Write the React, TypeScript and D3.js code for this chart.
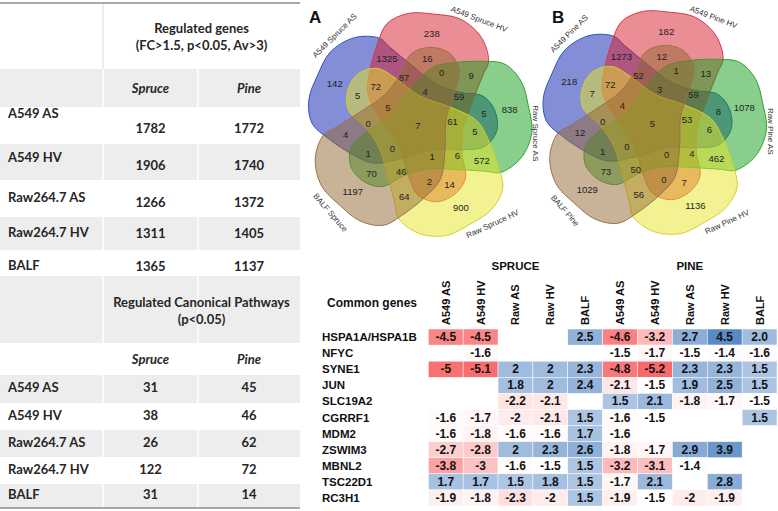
import React from "react";
import * as d3 from "d3";

// ---------- Left table data ----------
const tableRowNames = ["A549 AS", "A549 HV", "Raw264.7 AS", "Raw264.7 HV", "BALF"];
const genesSpruce = [1782, 1906, 1266, 1311, 1365];
const genesPine = [1772, 1740, 1372, 1405, 1137];
const pathwaysSpruce = [31, 38, 26, 122, 31];
const pathwaysPine = [45, 46, 62, 72, 14];
const columnNames = ["Spruce", "Pine"];

// ---------- Venn data (sets ordered clockwise from the top shape) ----------
const vennSetsA = ["A549 Spruce HV", "Raw Spruce AS", "Raw Spruce HV", "BALF Spruce", "A549 Spruce AS"];
const vennSetsB = ["A549 Pine HV", "Raw Pine AS", "Raw Pine HV", "BALF Pine", "A549 Pine AS"];
// counts per region orbit, one value per set index
const vennA_only = [238, 838, 900, 1197, 142];
const vennA_pairNext = [1325, 9, 572, 64, 4];
const vennA_pairTip = [16, 5, 14, 70, 5];
const vennA_quad = [4, 61, 1, 0, 5];
const vennA_tripleA = [0, 5, 2, 1, 72];
const vennA_tripleB = [87, 59, 6, 46, 0];
const vennA_all = 7;

const vennB_only = [182, 1078, 1136, 1029, 218];
const vennB_pairNext = [1273, 13, 462, 56, 12];
const vennB_pairTip = [12, 8, 7, 73, 7];
const vennB_quad = [3, 53, 0, 0, 4];
const vennB_tripleA = [1, 6, 0, 1, 72];
const vennB_tripleB = [52, 59, 4, 50, 0];
const vennB_all = 5;

// ---------- Heatmap data ----------
const heatGroups = ["SPRUCE", "PINE"];
const heatCols = ["A549 AS", "A549 HV", "Raw AS", "Raw HV", "BALF", "A549 AS", "A549 HV", "Raw AS", "Raw HV", "BALF"];
const genes = ["HSPA1A/HSPA1B", "NFYC", "SYNE1", "JUN", "SLC19A2", "CGRRF1", "MDM2", "ZSWIM3", "MBNL2", "TSC22D1", "RC3H1"];
const foldChanges = [
  ["-4.5", "-4.5", "", "", "2.5", "-4.6", "-3.2", "2.7", "4.5", "2.0"],
  ["", "-1.6", "", "", "", "-1.5", "-1.7", "-1.5", "-1.4", "-1.6"],
  ["-5", "-5.1", "2", "2", "2.3", "-4.8", "-5.2", "2.3", "2.3", "1.5"],
  ["", "", "1.8", "2", "2.4", "-2.1", "-1.5", "1.9", "2.5", "1.5"],
  ["", "", "-2.2", "-2.1", "", "1.5", "2.1", "-1.8", "-1.7", "-1.5"],
  ["-1.6", "-1.7", "-2", "-2.1", "1.5", "-1.6", "-1.5", "", "", "1.5"],
  ["-1.6", "-1.8", "-1.6", "-1.6", "1.7", "-1.6", "", "", "", ""],
  ["-2.7", "-2.8", "2", "2.3", "2.6", "-1.8", "-1.7", "2.9", "3.9", ""],
  ["-3.8", "-3", "-1.6", "-1.5", "1.5", "-3.2", "-3.1", "-1.4", "", ""],
  ["1.7", "1.7", "1.5", "1.8", "1.5", "-1.7", "2.1", "", "2.8", ""],
  ["-1.9", "-1.8", "-2.3", "-2", "1.5", "-1.9", "-1.5", "-2", "-1.9", ""],
];

// ---------- Styling / layout ----------
const TABLE_FONT = "Lato, 'Open Sans', sans-serif";
const SANS = "'Liberation Sans', Arial, sans-serif";
const SET_FILL = ["#d81b2c", "#14a018", "#e8e628", "#936731", "#0a1eb0"];
const SET_STROKE = ["#d23a48", "#33a033", "#d3cf2e", "#9a7248", "#3050c0"];
const DRAW_ORDER = [4, 0, 1, 2, 3];
// template shape in polar coords relative to the set's outward angle
const SHAPE: [number, number][] = [
  [40, 95], [28, 108], [14, 114], [0, 112], [-13, 112], [-25, 106], [-35, 90], [-50, 72],
  [-66, 59], [-91, 37], [-148, 29], [-177, 51], [-188, 70], [-202, 79], [-217, 78],
  [-230, 71], [-244, 53], [-272, 45], [-301, 59], [-316, 83],
];
const ORBITS = [
  { da: 0.5, r: 93 },
  { da: -33.2, r: 73 },
  { da: -0.1, r: 67 },
  { da: 3.8, r: 34.7 },
  { da: 16.5, r: 57.3 },
  { da: -24.4, r: 49.8 },
];
const SET_LABEL_DA = [22, 14, -9, 1, 21];
const SET_LABEL_R = [122, 118, 124, 124, 122];
const SET_LABEL_ROT = [21, 90, -25, 49, -45];

function Venn({ cx, cy, names, orbits, all, letter, letterX }: any) {
  const base = 8;
  const pol = (deg: number, r: number): [number, number] => {
    const a = (deg * Math.PI) / 180;
    return [cx + r * Math.sin(a), cy - r * Math.cos(a)];
  };
  const line = d3.line().curve(d3.curveCatmullRomClosed.alpha(0.5));
  return (
    <g>
      {DRAW_ORDER.map((i) => (
        <path
          key={i}
          d={line(SHAPE.map(([da, r]) => pol(base + 72 * i + da, r))) || ""}
          fill={SET_FILL[i]}
          fillOpacity={0.5}
          stroke={SET_STROKE[i]}
          strokeWidth={1}
        />
      ))}
      {orbits.map((vals: number[], o: number) =>
        vals.map((v, i) => {
          const [x, y] = pol(base + 72 * i + ORBITS[o].da, ORBITS[o].r);
          return (
            <text key={o + "-" + i} x={x} y={y} textAnchor="middle" dominantBaseline="central"
              fontFamily={SANS} fontSize={9.5} fill="#222">{v}</text>
          );
        })
      )}
      <text x={cx} y={cy} textAnchor="middle" dominantBaseline="central" fontFamily={SANS} fontSize={9.5} fill="#222">{all}</text>
      {names.map((n: string, i: number) => {
        const [x, y] = pol(base + 72 * i + SET_LABEL_DA[i], SET_LABEL_R[i]);
        return (
          <text key={n} x={x} y={y} textAnchor="middle" dominantBaseline="central" fontFamily={SANS}
            fontSize={8} fill="#333" transform={`rotate(${SET_LABEL_ROT[i]},${x},${y})`}>{n}</text>
        );
      })}
      <text x={letterX} y={23} fontFamily={SANS} fontWeight="bold" fontSize={17} fill="#111">{letter}</text>
    </g>
  );
}

export default function App() {
  // ---------- left table ----------
  const bounds = [3, 69, 107, 144, 180, 217, 250, 276, 343, 375, 403, 430, 457, 484, 508];
  const colEdges = [0, 103, 198, 300];
  const colCenter = (c: number) => (colEdges[c + 1] + colEdges[c + 2]) / 2;
  const rowMid = (k: number) => (bounds[k] + bounds[k + 1]) / 2;
  const geneLabelDy = [-12.5, -5, -1.5, -1.5, 2];
  const geneValueDy = [2.5, 3, 3.5, -0.5, 3];
  const tcol = "#262626";

  // ---------- heatmap ----------
  const x = d3.scaleBand<number>().domain(d3.range(heatCols.length)).range([428.3, 777]);
  const y = d3.scaleBand<string>().domain(genes).range([329, 506]);
  const allVals = foldChanges.flat().filter((s) => s !== "").map(Number);
  const color = d3
    .scaleLinear<string>()
    .domain([d3.min(allVals)!, d3.median(allVals)!, d3.max(allVals)!])
    .range(["#F8696B", "#FFFFFF", "#5A8AC6"]);

  return (
    <svg width={778} height={511} style={{ position: "absolute", left: 0, top: 0, background: "#fff" }}>
      {/* Table backgrounds */}
      {bounds.slice(0, -1).map((b, i) => (
        <rect key={i} x={0} y={b} width={300} height={bounds[i + 1] - b} fill={i % 2 ? "#ededed" : "#ffffff"} />
      ))}
      {[103, 198].map((xx) => (
        <line key={xx} x1={xx} x2={xx} y1={69} y2={508} stroke="#ffffff" strokeWidth={1.5} />
      ))}
      <line x1={103} x2={103} y1={3} y2={69} stroke="#dcdcdc" strokeWidth={1} />
      <line x1={0} x2={300} y1={3} y2={3} stroke="#a8a8a8" strokeWidth={2} />
      <line x1={0} x2={300} y1={508} y2={508} stroke="#a8a8a8" strokeWidth={2} />

      <g fontFamily={TABLE_FONT} fontWeight="bold" fontSize={13} fill={tcol}>
        <text x={201.5} y={28} textAnchor="middle" dominantBaseline="central">Regulated genes</text>
        <text x={201.5} y={45} textAnchor="middle" dominantBaseline="central">(FC&gt;1.5, p&lt;0.05, Av&gt;3)</text>
        {columnNames.map((c, i) => (
          <text key={"h1" + c} x={colCenter(i)} y={rowMid(1)} textAnchor="middle" dominantBaseline="central" fontStyle="italic">{c}</text>
        ))}
        {tableRowNames.map((n, i) => (
          <g key={"g" + n}>
            <text x={8} y={rowMid(2 + i) + geneLabelDy[i]} dominantBaseline="central">{n}</text>
            <text x={colCenter(0)} y={rowMid(2 + i) + geneValueDy[i]} textAnchor="middle" dominantBaseline="central">{genesSpruce[i]}</text>
            <text x={colCenter(1)} y={rowMid(2 + i) + geneValueDy[i]} textAnchor="middle" dominantBaseline="central">{genesPine[i]}</text>
          </g>
        ))}
        <text x={201.5} y={302} textAnchor="middle" dominantBaseline="central">Regulated Canonical Pathways</text>
        <text x={201.5} y={319} textAnchor="middle" dominantBaseline="central">(p&lt;0.05)</text>
        {columnNames.map((c, i) => (
          <text key={"h2" + c} x={colCenter(i)} y={rowMid(8)} textAnchor="middle" dominantBaseline="central" fontStyle="italic">{c}</text>
        ))}
        {tableRowNames.map((n, i) => (
          <g key={"p" + n}>
            <text x={8} y={rowMid(9 + i) - 2} dominantBaseline="central">{n}</text>
            <text x={colCenter(0)} y={rowMid(9 + i) - 2} textAnchor="middle" dominantBaseline="central">{pathwaysSpruce[i]}</text>
            <text x={colCenter(1)} y={rowMid(9 + i) - 2} textAnchor="middle" dominantBaseline="central">{pathwaysPine[i]}</text>
          </g>
        ))}
      </g>

      {/* Venn diagrams */}
      <Venn cx={418} cy={125} names={vennSetsA}
        orbits={[vennA_only, vennA_pairNext, vennA_pairTip, vennA_quad, vennA_tripleA, vennA_tripleB]}
        all={vennA_all} letter="A" letterX={309} />
      <Venn cx={652.5} cy={123} names={vennSetsB}
        orbits={[vennB_only, vennB_pairNext, vennB_pairTip, vennB_quad, vennB_tripleA, vennB_tripleB]}
        all={vennB_all} letter="B" letterX={552} />

      {/* Heatmap */}
      <g fontFamily={SANS} fontWeight="bold" fill="#111">
        {heatGroups.map((g, gi) => {
          const x0 = x(gi * 5)!;
          const x1 = x(gi * 5 + 4)! + x.bandwidth();
          return (
            <text key={g} x={(x0 + x1) / 2} y={266} textAnchor="middle" dominantBaseline="central" fontSize={11.5}>{g}</text>
          );
        })}
        <text x={327} y={303} dominantBaseline="central" fontSize={12}>Common genes</text>
        {heatCols.map((c, i) => {
          const cx = x(i)! + x.bandwidth() / 2;
          return (
            <text key={"c" + i} x={cx} y={325} dominantBaseline="central" fontSize={11}
              transform={`rotate(-90,${cx},325)`}>{c}</text>
          );
        })}
        {genes.map((g, r) => (
          <g key={g}>
            <text x={322} y={y(g)! + y.bandwidth() / 2} dominantBaseline="central" fontSize={11.5}>{g}</text>
            {foldChanges[r].map((s, c) =>
              s === "" ? null : (
                <g key={c}>
                  <rect x={x(c)} y={y(g)} width={x.bandwidth()} height={y.bandwidth()} fill={color(+s)}
                    stroke="#ffffff" strokeWidth={0.5} />
                  <text x={x(c)! + x.bandwidth() / 2} y={y(g)! + y.bandwidth() / 2} textAnchor="middle"
                    dominantBaseline="central" fontSize={12}>{s}</text>
                </g>
              )
            )}
          </g>
        ))}
      </g>
    </svg>
  );
}
